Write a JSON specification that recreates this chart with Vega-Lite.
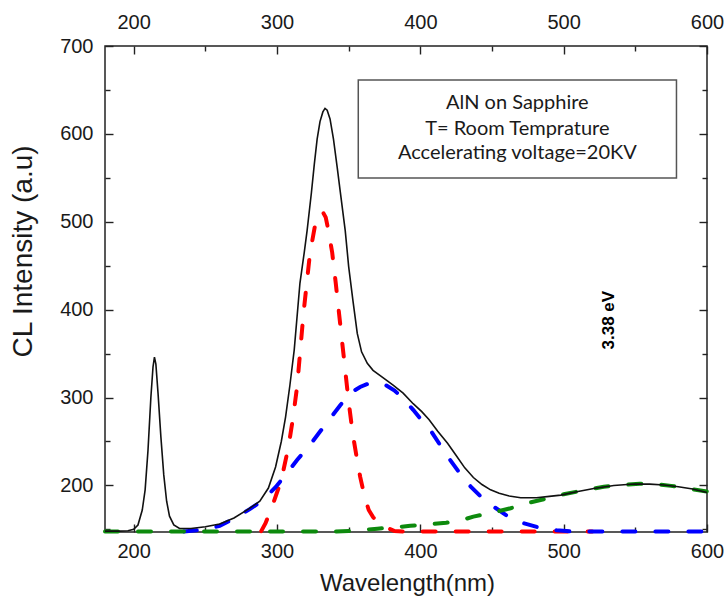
{
  "$schema": "https://vega.github.io/schema/vega-lite/v6.json",
  "width": 602,
  "height": 486,
  "autosize": {"type": "none"},
  "padding": {"left": 105, "top": 46, "right": 18, "bottom": 71},
  "background": "white",
  "config": {
    "view": {"stroke": "#222", "strokeWidth": 1.5},
    "axis": {"grid": false, "domain": false, "labelFont": "Liberation Sans", "labelFontSize": 20, "labelColor": "#1a1a1a", "titleFont": "Liberation Sans", "titleColor": "#1a1a1a", "titleFontWeight": "normal", "tickColor": "#222", "tickWidth": 1.4, "labelOverlap": false, "labelFlush": false}
  },
  "datasets": {
    "curves": [
      {"series": "total", "wl": 180, "cl": 148}, {"series": "total", "wl": 190, "cl": 148}, {"series": "total", "wl": 196, "cl": 148.5}, {"series": "total", "wl": 200, "cl": 150}, {"series": "total", "wl": 203, "cl": 155}, {"series": "total", "wl": 206, "cl": 172}, {"series": "total", "wl": 208, "cl": 195}, {"series": "total", "wl": 210, "cl": 240}, {"series": "total", "wl": 212, "cl": 300}, {"series": "total", "wl": 213.5, "cl": 335}, {"series": "total", "wl": 214.5, "cl": 346}, {"series": "total", "wl": 215.5, "cl": 338}, {"series": "total", "wl": 217, "cl": 305}, {"series": "total", "wl": 219, "cl": 255}, {"series": "total", "wl": 221, "cl": 212}, {"series": "total", "wl": 223, "cl": 182}, {"series": "total", "wl": 225, "cl": 165}, {"series": "total", "wl": 228, "cl": 155}, {"series": "total", "wl": 232, "cl": 151}, {"series": "total", "wl": 240, "cl": 151}, {"series": "total", "wl": 250, "cl": 153}, {"series": "total", "wl": 260, "cl": 156}, {"series": "total", "wl": 270, "cl": 163}, {"series": "total", "wl": 280, "cl": 173}, {"series": "total", "wl": 288, "cl": 182}, {"series": "total", "wl": 294, "cl": 197}, {"series": "total", "wl": 299, "cl": 221}, {"series": "total", "wl": 303, "cl": 250}, {"series": "total", "wl": 306, "cl": 278}, {"series": "total", "wl": 309, "cl": 314}, {"series": "total", "wl": 312, "cl": 354}, {"series": "total", "wl": 316, "cl": 430}, {"series": "total", "wl": 319, "cl": 465}, {"series": "total", "wl": 321, "cl": 490}, {"series": "total", "wl": 324, "cl": 533}, {"series": "total", "wl": 326, "cl": 565}, {"series": "total", "wl": 328, "cl": 594}, {"series": "total", "wl": 330, "cl": 614}, {"series": "total", "wl": 332, "cl": 625}, {"series": "total", "wl": 333.5, "cl": 629}, {"series": "total", "wl": 335, "cl": 627}, {"series": "total", "wl": 337, "cl": 617}, {"series": "total", "wl": 339.4, "cl": 594}, {"series": "total", "wl": 342, "cl": 562}, {"series": "total", "wl": 344, "cl": 536}, {"series": "total", "wl": 347.6, "cl": 490}, {"series": "total", "wl": 350, "cl": 449}, {"series": "total", "wl": 353, "cl": 410}, {"series": "total", "wl": 356, "cl": 373}, {"series": "total", "wl": 359, "cl": 352}, {"series": "total", "wl": 363, "cl": 339}, {"series": "total", "wl": 367, "cl": 331}, {"series": "total", "wl": 372, "cl": 325}, {"series": "total", "wl": 377, "cl": 319}, {"series": "total", "wl": 381, "cl": 314}, {"series": "total", "wl": 388, "cl": 305}, {"series": "total", "wl": 395, "cl": 293}, {"series": "total", "wl": 401, "cl": 284}, {"series": "total", "wl": 406, "cl": 275}, {"series": "total", "wl": 412, "cl": 262}, {"series": "total", "wl": 419, "cl": 248}, {"series": "total", "wl": 425, "cl": 234}, {"series": "total", "wl": 431, "cl": 220}, {"series": "total", "wl": 437, "cl": 209}, {"series": "total", "wl": 443, "cl": 201}, {"series": "total", "wl": 449, "cl": 195}, {"series": "total", "wl": 455, "cl": 191}, {"series": "total", "wl": 462, "cl": 188}, {"series": "total", "wl": 470, "cl": 186}, {"series": "total", "wl": 481, "cl": 186}, {"series": "total", "wl": 490, "cl": 187.5}, {"series": "total", "wl": 498, "cl": 189}, {"series": "total", "wl": 510, "cl": 193}, {"series": "total", "wl": 521, "cl": 196.5}, {"series": "total", "wl": 535, "cl": 200}, {"series": "total", "wl": 549, "cl": 201.6}, {"series": "total", "wl": 560, "cl": 201.5}, {"series": "total", "wl": 570, "cl": 200.5}, {"series": "total", "wl": 580, "cl": 198.5}, {"series": "total", "wl": 590, "cl": 196}, {"series": "total", "wl": 600, "cl": 192},

      {"series": "red", "wl": 289, "cl": 148}, {"series": "red", "wl": 292, "cl": 157}, {"series": "red", "wl": 297, "cl": 178}, {"series": "red", "wl": 303, "cl": 206}, {"series": "red", "wl": 308, "cl": 244}, {"series": "red", "wl": 311, "cl": 275}, {"series": "red", "wl": 314, "cl": 312}, {"series": "red", "wl": 318.5, "cl": 396}, {"series": "red", "wl": 323, "cl": 464}, {"series": "red", "wl": 327, "cl": 500}, {"series": "red", "wl": 330, "cl": 510}, {"series": "red", "wl": 332, "cl": 511}, {"series": "red", "wl": 334, "cl": 505}, {"series": "red", "wl": 336, "cl": 489}, {"series": "red", "wl": 338.5, "cl": 465}, {"series": "red", "wl": 341, "cl": 430}, {"series": "red", "wl": 344, "cl": 385}, {"series": "red", "wl": 347, "cl": 340}, {"series": "red", "wl": 350, "cl": 295}, {"series": "red", "wl": 353, "cl": 257}, {"series": "red", "wl": 356, "cl": 228}, {"series": "red", "wl": 358, "cl": 210}, {"series": "red", "wl": 361, "cl": 188}, {"series": "red", "wl": 364, "cl": 172}, {"series": "red", "wl": 367, "cl": 164}, {"series": "red", "wl": 370, "cl": 159}, {"series": "red", "wl": 374, "cl": 155}, {"series": "red", "wl": 378, "cl": 151}, {"series": "red", "wl": 382, "cl": 148}, {"series": "red", "wl": 390, "cl": 147.5}, {"series": "red", "wl": 520, "cl": 147.5},

      {"series": "blue", "wl": 235, "cl": 147.5}, {"series": "blue", "wl": 250, "cl": 150}, {"series": "blue", "wl": 260, "cl": 154}, {"series": "blue", "wl": 272, "cl": 164}, {"series": "blue", "wl": 281, "cl": 173}, {"series": "blue", "wl": 290, "cl": 183}, {"series": "blue", "wl": 299, "cl": 198}, {"series": "blue", "wl": 307, "cl": 214}, {"series": "blue", "wl": 314, "cl": 229}, {"series": "blue", "wl": 322, "cl": 244}, {"series": "blue", "wl": 329, "cl": 259}, {"series": "blue", "wl": 336, "cl": 274}, {"series": "blue", "wl": 344, "cl": 291}, {"series": "blue", "wl": 351, "cl": 305}, {"series": "blue", "wl": 358, "cl": 312}, {"series": "blue", "wl": 364, "cl": 316}, {"series": "blue", "wl": 370, "cl": 316.5}, {"series": "blue", "wl": 376, "cl": 314}, {"series": "blue", "wl": 382, "cl": 308}, {"series": "blue", "wl": 388.5, "cl": 298}, {"series": "blue", "wl": 395, "cl": 286}, {"series": "blue", "wl": 401, "cl": 274}, {"series": "blue", "wl": 407, "cl": 263}, {"series": "blue", "wl": 413, "cl": 248}, {"series": "blue", "wl": 419, "cl": 233}, {"series": "blue", "wl": 427, "cl": 215}, {"series": "blue", "wl": 435, "cl": 199}, {"series": "blue", "wl": 443, "cl": 186}, {"series": "blue", "wl": 451, "cl": 176}, {"series": "blue", "wl": 461, "cl": 165}, {"series": "blue", "wl": 472, "cl": 157}, {"series": "blue", "wl": 483, "cl": 152}, {"series": "blue", "wl": 495, "cl": 149}, {"series": "blue", "wl": 505, "cl": 147.7}, {"series": "blue", "wl": 520, "cl": 147.5}, {"series": "blue", "wl": 600, "cl": 147.5},

      {"series": "green", "wl": 180, "cl": 147.5}, {"series": "green", "wl": 340, "cl": 147.5}, {"series": "green", "wl": 350, "cl": 148}, {"series": "green", "wl": 360, "cl": 149.3}, {"series": "green", "wl": 370, "cl": 150.8}, {"series": "green", "wl": 380, "cl": 152}, {"series": "green", "wl": 393, "cl": 154}, {"series": "green", "wl": 405, "cl": 155.5}, {"series": "green", "wl": 418, "cl": 157.5}, {"series": "green", "wl": 430, "cl": 161}, {"series": "green", "wl": 437, "cl": 164.5}, {"series": "green", "wl": 450, "cl": 169}, {"series": "green", "wl": 463, "cl": 174}, {"series": "green", "wl": 475, "cl": 180}, {"series": "green", "wl": 488, "cl": 185}, {"series": "green", "wl": 500, "cl": 190}, {"series": "green", "wl": 516, "cl": 195}, {"series": "green", "wl": 528, "cl": 198.5}, {"series": "green", "wl": 540, "cl": 200.5}, {"series": "green", "wl": 553, "cl": 201.8}, {"series": "green", "wl": 563, "cl": 201.6}, {"series": "green", "wl": 575, "cl": 199.5}, {"series": "green", "wl": 586, "cl": 196.7}, {"series": "green", "wl": 600, "cl": 193}
    ],
    "box": [{"x1": 356.7, "x2": 578.7, "y1": 549.7, "y2": 661.2}],
    "boxtext": [
      {"wl": 467.7, "cl": 635, "label": "AlN on Sapphire"},
      {"wl": 467.7, "cl": 605.5, "label": "T= Room Temprature"},
      {"wl": 467.7, "cl": 578.2, "label": "Accelerating voltage=20KV"}
    ],
    "note": [{"wl": 531.3, "cl": 388, "label": "3.38 eV"}]
  },
  "layer": [
    {
      "data": {"name": "box"},
      "mark": {"type": "rect", "fill": "white", "stroke": "#555", "strokeWidth": 1.5},
      "encoding": {
        "x": {"field": "x1", "type": "quantitative", "scale": {"domain": [180, 600], "nice": false, "zero": false}, "axis": null},
        "x2": {"field": "x2"},
        "y": {"field": "y1", "type": "quantitative", "scale": {"domain": [147, 700], "nice": false, "zero": false}, "axis": null},
        "y2": {"field": "y2"}
      }
    },
    {
      "data": {"name": "boxtext"},
      "mark": {"type": "text", "font": "Lato", "fontSize": 20, "color": "#1a1a1a", "align": "center", "baseline": "middle"},
      "encoding": {
        "x": {"field": "wl", "type": "quantitative", "scale": {"domain": [180, 600], "nice": false, "zero": false}, "axis": null},
        "y": {"field": "cl", "type": "quantitative", "scale": {"domain": [147, 700], "nice": false, "zero": false}, "axis": null},
        "text": {"field": "label"}
      }
    },
    {
      "data": {"name": "note"},
      "mark": {"type": "text", "font": "Liberation Sans", "fontSize": 17, "fontWeight": "bold", "color": "#000", "angle": 270, "align": "center", "baseline": "middle"},
      "encoding": {
        "x": {"field": "wl", "type": "quantitative", "scale": {"domain": [180, 600], "nice": false, "zero": false}, "axis": null},
        "y": {"field": "cl", "type": "quantitative", "scale": {"domain": [147, 700], "nice": false, "zero": false}, "axis": null},
        "text": {"field": "label"}
      }
    },
    {
      "data": {"name": "curves"},
      "transform": [{"filter": "datum.series != 'total'"}],
      "mark": {"type": "line", "strokeWidth": 4, "strokeDash": [13, 20], "strokeCap": "round", "clip": false},
      "encoding": {
        "x": {"field": "wl", "type": "quantitative", "scale": {"domain": [180, 600], "nice": false, "zero": false},
          "axis": {"orient": "bottom", "values": [200, 250, 300, 350, 400, 450, 500, 550, 600], "labelExpr": "datum.value % 100 == 0 ? datum.label : ''", "tickSize": {"condition": {"test": "datum.value % 100 == 0", "value": -8}, "value": -5}, "labelPadding": 17, "title": "Wavelength(nm)", "titleFontSize": 24, "titleX": 302, "titleY": 51, "titleBaseline": "middle", "titleAlign": "center"}},
        "y": {"field": "cl", "type": "quantitative", "scale": {"domain": [147, 700], "nice": false, "zero": false},
          "axis": {"orient": "left", "values": [150, 200, 250, 300, 350, 400, 450, 500, 550, 600, 650, 700], "labelExpr": "datum.value % 100 == 0 ? datum.label : ''", "tickSize": {"condition": {"test": "datum.value % 100 == 0", "value": -8}, "value": -5}, "labelPadding": 20, "title": "CL Intensity (a.u)", "titleFontSize": 28, "titleX": -82, "titleY": 205, "titleAngle": -90, "titleBaseline": "middle", "titleAlign": "center"}},
        "color": {"field": "series", "type": "nominal", "scale": {"domain": ["red", "blue", "green"], "range": ["#ff0000", "#0000ff", "#0d8a0d"]}, "legend": null},
        "order": {"field": "wl", "type": "quantitative"}
      }
    },
    {
      "data": {"name": "curves"},
      "transform": [{"filter": "datum.series == 'total'"}],
      "mark": {"type": "line", "strokeWidth": 1.6, "color": "#111"},
      "encoding": {
        "x": {"field": "wl", "type": "quantitative", "scale": {"domain": [180, 600], "nice": false, "zero": false},
          "axis": {"orient": "top", "values": [200, 250, 300, 350, 400, 450, 500, 550, 600], "labelExpr": "datum.value % 100 == 0 ? datum.label : ''", "tickSize": {"condition": {"test": "datum.value % 100 == 0", "value": -8}, "value": -5}, "labelPadding": 22, "title": null}},
        "y": {"field": "cl", "type": "quantitative", "scale": {"domain": [147, 700], "nice": false, "zero": false},
          "axis": {"orient": "right", "values": [150, 200, 250, 300, 350, 400, 450, 500, 550, 600, 650, 700], "labels": false, "tickSize": {"condition": {"test": "datum.value % 100 == 0", "value": -8}, "value": -5}, "title": null}},
        "order": {"field": "wl", "type": "quantitative"}
      }
    }
  ],
  "resolve": {"axis": {"x": "independent", "y": "independent"}}
}
